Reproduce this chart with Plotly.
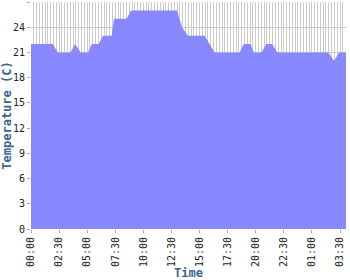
import plotly.graph_objects as go

times = [
    "2024-01-01 00:00", "2024-01-01 01:56", "2024-01-01 02:23", "2024-01-01 03:31",
    "2024-01-01 03:56", "2024-01-01 04:25", "2024-01-01 05:04", "2024-01-01 05:25",
    "2024-01-01 06:01", "2024-01-01 06:24", "2024-01-01 07:11", "2024-01-01 07:23",
    "2024-01-01 08:31", "2024-01-01 08:54", "2024-01-01 13:00", "2024-01-01 13:26",
    "2024-01-01 13:58", "2024-01-01 15:27", "2024-01-01 16:20", "2024-01-01 18:34",
    "2024-01-01 18:56", "2024-01-01 19:32", "2024-01-01 19:49", "2024-01-01 20:31",
    "2024-01-01 20:56", "2024-01-01 21:28", "2024-01-01 21:55", "2024-01-02 02:28",
    "2024-01-02 02:58", "2024-01-02 03:25", "2024-01-02 04:02",
]
temps = [
    22, 22, 21, 21,
    22, 21, 21, 22,
    22, 23, 23, 25,
    25, 26, 26, 24,
    23, 23, 21, 21,
    22, 22, 21, 21,
    22, 22, 21, 21,
    20, 21, 21,
]

title_color = "#3d6490"
tick_font = dict(family="DejaVu Sans Mono", size=10, color="#222222")

fig = go.Figure()
fig.add_trace(go.Scatter(
    x=times, y=temps, mode="lines", line=dict(width=0, color="#8888ff"),
    fill="tozeroy", fillcolor="#8888ff", hoverinfo="skip",
))

fig.update_layout(
    width=350, height=280,
    margin=dict(l=31, r=4, t=2, b=51),
    paper_bgcolor="white", plot_bgcolor="white",
    showlegend=False,
)
fig.update_xaxes(
    type="date", automargin=False,
    range=["2024-01-01 00:00", "2024-01-02 04:02"],
    tick0="2024-01-01 00:00", dtick=150 * 60 * 1000,
    tickformat="%H:%M", tickangle=-90,
    tickfont=tick_font,
    ticks="outside", ticklen=3, tickcolor="#aaaaaa",
    showgrid=True, gridcolor="#cccccc", gridwidth=1,
    minor=dict(dtick=15 * 60 * 1000, showgrid=True, gridcolor="#cccccc", gridwidth=1),
    showline=False, zeroline=False,
    title=dict(text="<b>Time</b>", font=dict(family="DejaVu Sans Mono", size=12, color=title_color), standoff=4),
)
fig.update_yaxes(
    automargin=False,
    range=[0, 27], tick0=0, dtick=3,
    tickfont=tick_font,
    ticks="outside", ticklen=3, tickcolor="#aaaaaa",
    showgrid=True, gridcolor="#cccccc", gridwidth=1,
    showline=False, zeroline=False,
    title=dict(text="<b>Temperature (C)</b>", font=dict(family="DejaVu Sans Mono", size=12, color=title_color), standoff=2),
)

fig.write_html("out.html")
